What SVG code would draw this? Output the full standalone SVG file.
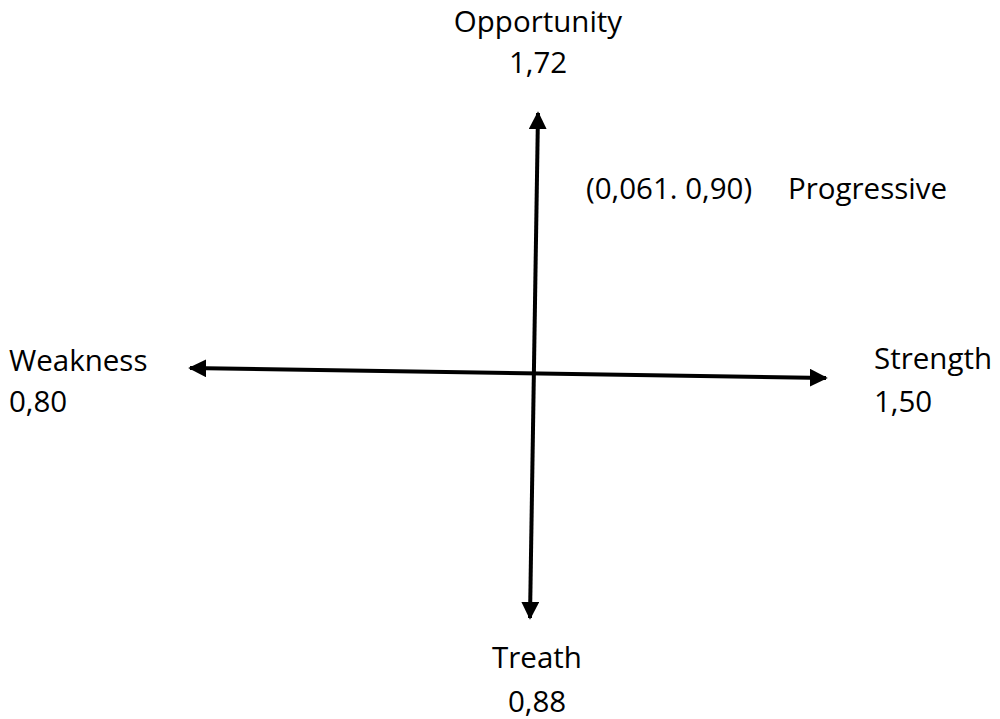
<svg xmlns="http://www.w3.org/2000/svg" width="1000" height="719" viewBox="0 0 1000 719">
<style>
text{font-family:"Open Sans","Noto Sans","Liberation Sans",sans-serif;font-size:29.5px;fill:#000}
.ax{stroke:#000;stroke-width:4;fill:none}
</style>
<defs>
<marker id="ah" viewBox="0 0 10 10" refX="9" refY="5" markerWidth="4.5" markerHeight="4.5" orient="auto-start-reverse" markerUnits="strokeWidth">
<path d="M0,0 L10,5 L0,10 z" fill="#000"/>
</marker>
</defs>
<rect width="1000" height="719" fill="#fff"/>
<g id="connectors">
<line class="ax" x1="538" y1="113" x2="530" y2="618" marker-start="url(#ah)" marker-end="url(#ah)"/>
<line class="ax" x1="190" y1="368" x2="826" y2="378" marker-start="url(#ah)" marker-end="url(#ah)"/>
</g>
<g id="opportunity"><text x="538" y="32" text-anchor="middle">Opportunity</text><text x="538" y="73" text-anchor="middle">1,72</text></g>
<g id="progressive"><text x="586" y="199">(0,061. 0,90)</text><text x="788" y="199">Progressive</text></g>
<g id="weakness"><text x="9" y="371">Weakness</text><text x="9" y="412">0,80</text></g>
<g id="strength"><text x="874" y="369">Strength</text><text x="874" y="412">1,50</text></g>
<g id="treath"><text x="537" y="668" text-anchor="middle">Treath</text><text x="537" y="712" text-anchor="middle">0,88</text></g>
</svg>
